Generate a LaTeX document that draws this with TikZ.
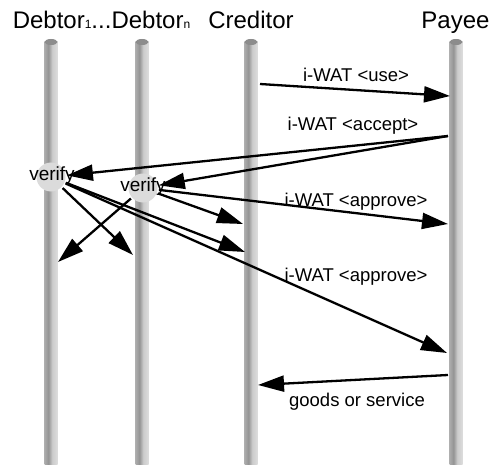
\documentclass[tikz,border=0pt]{standalone}
\usepackage{fontspec}
\setmainfont{Liberation Sans}
\usetikzlibrary{arrows.meta}
\pgfdeclarehorizontalshading{lifeline}{100bp}{color(0bp)=(black!18); color(18bp)=(black!28); color(40bp)=(black!42); color(55bp)=(black!20); color(80bp)=(black!12); color(100bp)=(black!26)}
\begin{document}
\begin{tikzpicture}[x=1pt,y=-1pt,
  title/.style={font=\fontsize{24}{26}\selectfont, anchor=base, inner sep=0pt},
  lbl/.style={font=\fontsize{18.5}{20}\selectfont, anchor=base, inner sep=0pt},
  vcirc/.style={circle, fill=black!14, draw=none, minimum size=29pt, inner sep=0pt, outer sep=1.5pt},
  vtext/.style={font=\fontsize{19}{20}\selectfont, inner sep=0pt},
  msg/.style={line width=2.3pt, -{Triangle[length=26pt,width=16pt]}}]
\useasboundingbox (0,0) rectangle (492,465);

% lifelines
\foreach \x/\n in {51/la,142/lb,251/lc,456/ld}{
  \shade[shading=lifeline] (\x-6.5,42) rectangle (\x+6.5,465);
  \fill[black!45] (\x,42) ellipse [x radius=6.5pt, y radius=3pt];
}

% headers
\node[title] (hdeb) at (101.5,29) {Debtor{\fontsize{12}{12}\selectfont 1}...Debtor{\fontsize{12}{12}\selectfont n}};
\node[title] (hcre) at (251,29) {Creditor};
\node[title] (hpay) at (455.5,29) {Payee};

% verify circles
\node[vcirc] (v1) at (51,177) {};
\node[vcirc] (vn) at (143,188) {};

% coordinates on lifelines
\coordinate (cuse) at (260,84);
\coordinate (puse) at (450,96);
\coordinate (pacc) at (448,136);
\coordinate (cvn) at (243,224);
\coordinate (pvn) at (448,224);
\coordinate (dvn) at (58,262);
\coordinate (bv1) at (133,255);
\coordinate (cv1) at (245,252);
\coordinate (pv1) at (447,353);
\coordinate (pgoods) at (448,375);
\coordinate (cgoods) at (258,385);

% messages
\draw[msg] (cuse) -- (puse);
\node[lbl] (luse) at (356,82) {i-WAT <use>};

\draw[msg] (pacc) -- (v1);
\draw[msg] (pacc) -- (vn);
\node[lbl] (lacc) at (353,131) {i-WAT <accept>};

\draw[msg] (vn) -- (cvn);
\draw[msg] (vn) -- (pvn);
\draw[msg] (vn) -- (dvn);
\node[lbl] (lapp1) at (356,206) {i-WAT <approve>};

\draw[msg] (v1) -- (bv1);
\draw[msg] (v1) -- (cv1);
\draw[msg] (v1) -- (pv1);
\node[lbl] (lapp2) at (356,281) {i-WAT <approve>};

\draw[msg] (pgoods) -- (cgoods);
\node[lbl] (lgoods) at (357,406) {goods or service};

% verify texts on top
\node[vtext] (v1t) at (52,176) {verify};
\node[vtext] (vnt) at (143,187) {verify};
\end{tikzpicture}
\end{document}
